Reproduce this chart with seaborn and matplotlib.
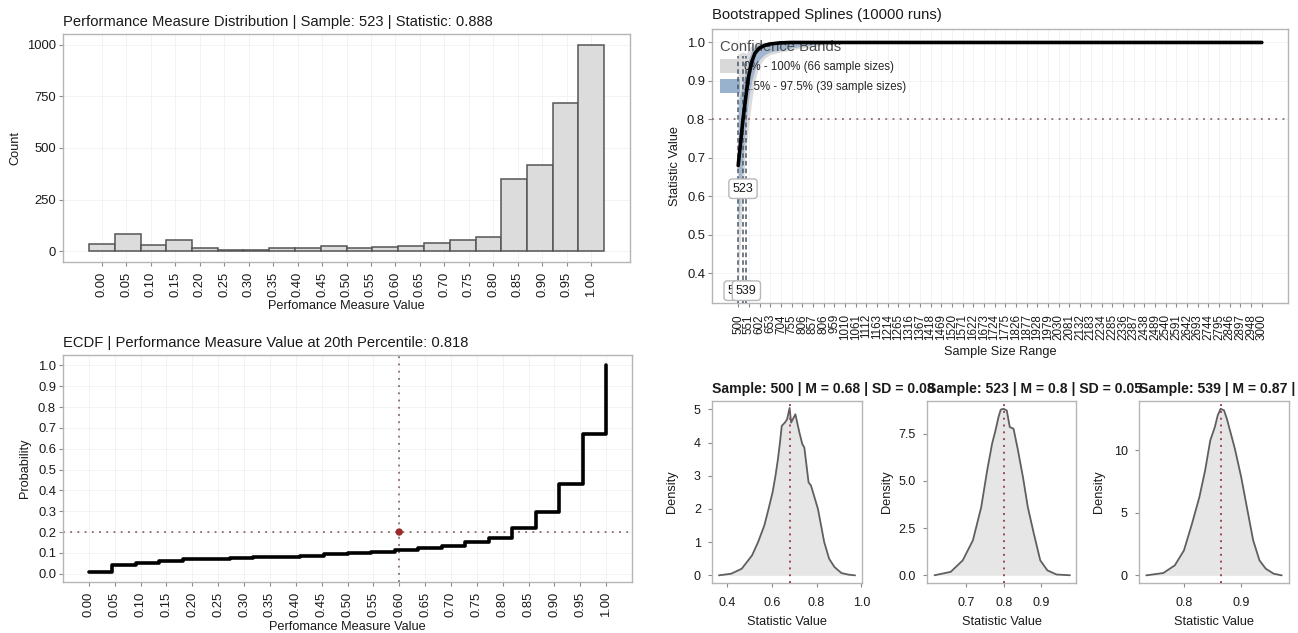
import numpy as np
import matplotlib
matplotlib.use("Agg")
import matplotlib.pyplot as plt
import seaborn as sns
from matplotlib.patches import Patch

# ---------------- data ----------------
# histogram (20 bins over 0..1)
hist_centers = [0.000, 0.053, 0.105, 0.158, 0.211, 0.263, 0.316, 0.368, 0.421, 0.474,
                0.526, 0.579, 0.632, 0.684, 0.737, 0.789, 0.842, 0.895, 0.947, 1.000]
hist_counts = [37, 86, 32, 53, 16, 8, 6, 14, 14, 24, 18, 21, 27, 40, 53, 71, 348, 417, 720, 1000]

value_ticks = [0.00, 0.05, 0.10, 0.15, 0.20, 0.25, 0.30, 0.35, 0.40, 0.45, 0.50,
               0.55, 0.60, 0.65, 0.70, 0.75, 0.80, 0.85, 0.90, 0.95, 1.00]
value_tick_labels = ["0.00", "0.05", "0.10", "0.15", "0.20", "0.25", "0.30", "0.35", "0.40",
                     "0.45", "0.50", "0.55", "0.60", "0.65", "0.70", "0.75", "0.80", "0.85",
                     "0.90", "0.95", "1.00"]
count_ticks = [0, 250, 500, 750, 1000]

# ECDF
ecdf_x = [0.000, 0.045, 0.091, 0.136, 0.182, 0.227, 0.273, 0.318, 0.364, 0.409, 0.455, 0.500,
          0.545, 0.591, 0.636, 0.682, 0.727, 0.773, 0.818, 0.864, 0.909, 0.955, 1.000]
ecdf_y = [0.008, 0.041, 0.052, 0.060, 0.069, 0.072, 0.075, 0.078, 0.081, 0.085, 0.095, 0.101,
          0.106, 0.115, 0.123, 0.134, 0.151, 0.172, 0.217, 0.296, 0.430, 0.670, 1.000]
prob_ticks = [0.0, 0.1, 0.2, 0.3, 0.4, 0.5, 0.6, 0.7, 0.8, 0.9, 1.0]
pct_x = 0.60
pct_y = 0.20

# bootstrapped spline
boot_sizes = [500, 523, 539, 551, 565, 580, 600, 625, 650, 700, 750, 800, 900, 1000, 1500, 2000, 3000]
boot_mean = [0.68, 0.80, 0.87, 0.915, 0.950, 0.972, 0.985, 0.992, 0.996, 0.999, 1.0, 1.0, 1.0, 1.0, 1.0, 1.0, 1.0]
band_q_lo = [0.52, 0.70, 0.80, 0.86, 0.90, 0.93, 0.955, 0.968, 0.975, 0.980, 0.985, 0.990, 0.997, 1.0, 1.0, 1.0, 1.0]
band_q_hi = [0.84, 0.90, 0.93, 0.960, 0.980, 0.990, 0.996, 0.999, 1.0, 1.0, 1.0, 1.0, 1.0, 1.0, 1.0, 1.0, 1.0]
band_min = [0.36, 0.62, 0.73, 0.79, 0.85, 0.90, 0.94, 0.958, 0.968, 0.975, 0.980, 0.985, 0.993, 0.998, 1.0, 1.0, 1.0]
band_max = [0.97, 0.976, 0.971, 0.985, 0.993, 0.997, 1.0, 1.0, 1.0, 1.0, 1.0, 1.0, 1.0, 1.0, 1.0, 1.0, 1.0]
boot_tick_labels = ["500", "551", "602", "653", "704", "755", "806", "857", "806", "959",
                    "1010", "1061", "1112", "1163", "1214", "1265", "1316", "1367", "1418", "1469",
                    "1520", "1571", "1622", "1673", "1724", "1775", "1826", "1877", "1928", "1979",
                    "2030", "2081", "2132", "2183", "2234", "2285", "2336", "2387", "2438", "2489",
                    "2540", "2591", "2642", "2693", "2744", "2795", "2846", "2897", "2948", "3000"]
stat_ticks = [0.4, 0.5, 0.6, 0.7, 0.8, 0.9, 1.0]
target_stat = 0.8
marked_sizes = [500, 523, 539]
marked_label_y = [0.355, 0.62, 0.355]
band_labels = ["0% - 100% (66 sample sizes)", "2.5% - 97.5% (39 sample sizes)"]

# density panels
d500_x = [0.363, 0.418, 0.465, 0.511, 0.538, 0.566, 0.585, 0.603, 0.616, 0.627, 0.636, 0.644,
          0.658, 0.668, 0.679, 0.686, 0.705, 0.723, 0.736, 0.745, 0.764, 0.775, 0.806, 0.834,
          0.856, 0.880, 0.911, 0.944, 0.972]
d500_y = [0.0, 0.05, 0.2, 0.6, 1.0, 1.5, 2.0, 2.5, 3.0, 3.5, 4.0, 4.5,
          4.6, 4.7, 5.04, 4.6, 4.85, 4.3, 3.95, 3.85, 2.8, 2.7, 2.0, 1.0,
          0.5, 0.25, 0.07, 0.02, 0.0]
d523_x = [0.616, 0.659, 0.691, 0.718, 0.740, 0.756, 0.769, 0.778, 0.786, 0.792, 0.799, 0.808,
          0.816, 0.826, 0.837, 0.851, 0.864, 0.880, 0.897, 0.916, 0.940, 0.976]
d523_y = [0.0, 0.18, 0.79, 1.85, 3.6, 5.56, 6.97, 7.67, 8.38, 8.77, 8.82, 8.73,
          7.85, 7.76, 6.7, 5.2, 3.6, 2.2, 0.79, 0.26, 0.04, 0.0]
d539_x = [0.734, 0.764, 0.784, 0.800, 0.814, 0.827, 0.837, 0.846, 0.854, 0.859, 0.864, 0.870,
          0.875, 0.882, 0.889, 0.900, 0.911, 0.921, 0.932, 0.943, 0.957, 0.971]
d539_y = [0.0, 0.19, 0.8, 2.0, 4.13, 6.27, 8.4, 10.8, 11.87, 12.8, 13.33, 13.2,
          12.53, 11.33, 10.13, 7.87, 5.2, 2.8, 1.2, 0.53, 0.13, 0.0]
dens_means = [0.679, 0.800, 0.864]
dens_titles = ["Sample: 500 | M = 0.68 | SD = 0.08",
               "Sample: 523 | M = 0.8 | SD = 0.05",
               "Sample: 539 | M = 0.87 |"]
dens_yticks = [[0, 1, 2, 3, 4, 5], [0.0, 2.5, 5.0, 7.5], [0, 5, 10]]
dens_yticklabels = [["0", "1", "2", "3", "4", "5"], ["0.0", "2.5", "5.0", "7.5"], ["0", "5", "10"]]
dens_xticks = [[0.4, 0.6, 0.8, 1.0], [0.7, 0.8, 0.9], [0.8, 0.9]]
dens_xticklabels = [["0.4", "0.6", "0.8", "1.0"], ["0.7", "0.8", "0.9"], ["0.8", "0.9"]]

# ---------------- style ----------------
sns.set_theme(style="white")
plt.rcParams["font.family"] = ["Liberation Sans", "DejaVu Sans"]
TXT = "#1a1a1a"
SPINE = "#b5b5b5"
GRID = "#f1f1f1"
DOT = "#8a6a6a"
plt.rcParams.update({
    "axes.edgecolor": SPINE,
    "axes.linewidth": 1.0,
    "xtick.color": "#8c8c8c",
    "ytick.color": "#8c8c8c",
    "xtick.labelcolor": TXT,
    "ytick.labelcolor": TXT,
    "xtick.major.size": 3,
    "ytick.major.size": 3,
    "xtick.major.width": 0.8,
    "ytick.major.width": 0.8,
    "xtick.bottom": True,
    "ytick.left": True,
    "axes.labelcolor": TXT,
})

W, H = 1298, 633
fig = plt.figure(figsize=(W / 100, H / 100), dpi=100)


def add_axes(l, r, t, b):
    return fig.add_axes([l / W, 1 - b / H, (r - l) / W, (b - t) / H])


def style_axes(ax, tick_fs=9.0):
    ax.tick_params(axis="both", labelsize=tick_fs, pad=2)
    ax.grid(True, color=GRID, linewidth=0.6)
    ax.set_axisbelow(True)
    for s in ax.spines.values():
        s.set_color(SPINE)
        s.set_visible(True)


# ---- top-left histogram ----
ax1 = add_axes(63, 630, 34, 262)
half = (hist_centers[1] - hist_centers[0]) / 2
edges = [hist_centers[0] - half] + [c + half for c in hist_centers]
sns.histplot(x=hist_centers, weights=hist_counts, bins=edges, ax=ax1,
             color="#dcdcdc", edgecolor="#555555", linewidth=1.1, alpha=1.0)
ax1.set_xlim(-0.079, 1.079)
ax1.set_ylim(-52, 1052)
ax1.set_xticks(value_ticks)
ax1.set_xticklabels(value_tick_labels, rotation=90)
ax1.set_yticks(count_ticks)
style_axes(ax1, tick_fs=9.4)
ax1.tick_params(axis="x", pad=4)
ax1.set_xlabel("Perfomance Measure Value", fontsize=9.2, labelpad=2)
ax1.set_ylabel("Count", fontsize=9.2, labelpad=4)
ax1.set_title("Performance Measure Distribution | Sample: 523 | Statistic: 0.888",
              loc="left", fontsize=10.6, color=TXT, pad=6)

# ---- bottom-left ECDF ----
ax2 = add_axes(63, 632, 355, 582)
ax2.axvline(pct_x, color=DOT, linestyle=(0, (1, 3)), linewidth=1.3, zorder=2)
ax2.axhline(pct_y, color=DOT, linestyle=(0, (1, 3)), linewidth=1.3, zorder=2)
sns.lineplot(x=ecdf_x, y=ecdf_y, drawstyle="steps-post", color="black", linewidth=2.6,
             ax=ax2, zorder=3)
sns.scatterplot(x=[pct_x], y=[pct_y], color="#9b2b2b", s=28, ax=ax2, zorder=4, edgecolor="none")
ax2.set_xlim(-0.05, 1.05)
ax2.set_ylim(-0.04, 1.05)
ax2.set_xticks(value_ticks)
ax2.set_xticklabels(value_tick_labels, rotation=90)
ax2.set_yticks(prob_ticks)
ax2.set_yticklabels([f"{v:.1f}" for v in prob_ticks])
style_axes(ax2, tick_fs=9.4)
ax2.tick_params(axis="x", pad=4)
ax2.set_xlabel("Perfomance Measure Value", fontsize=9.2, labelpad=2.5)
ax2.set_ylabel("Probability", fontsize=9.2, labelpad=5)
ax2.set_title("ECDF | Performance Measure Value at 20th Percentile: 0.818",
              loc="left", fontsize=10.6, color=TXT, pad=6)

# ---- top-right bootstrapped splines ----
ax3 = add_axes(712, 1288, 29, 303)
ax3.fill_between(boot_sizes, band_min, band_max, color="#d9d9d9", alpha=0.9, linewidth=0, zorder=2)
ax3.fill_between(boot_sizes, band_q_lo, band_q_hi, color="#98b1cd", alpha=0.85, linewidth=0, zorder=2)
ax3.axhline(target_stat, color=DOT, linestyle=(0, (1, 3)), linewidth=1.3, zorder=3)
leg = ax3.legend(handles=[Patch(facecolor="#d9d9d9", edgecolor="none"),
                          Patch(facecolor="#98b1cd", edgecolor="none")],
                 labels=band_labels, title="Confidence Bands", loc="upper left",
                 bbox_to_anchor=(0.0, 0.99), frameon=False, fontsize=8.3,
                 title_fontsize=10.6, handlelength=1.75, handleheight=1.55,
                 handletextpad=0.3, labelspacing=0.45, borderaxespad=0.3,
                 alignment="left")
leg.get_title().set_color("#4d4d4d")
leg.set_zorder(2.5)
for xs in marked_sizes:
    ax3.plot([xs, xs], [0.323, 0.965], color="#4a5866", linestyle=(0, (3, 2)),
             linewidth=1.1, zorder=4)
sns.lineplot(x=boot_sizes, y=boot_mean, color="black", linewidth=2.6, ax=ax3, zorder=5)
for xs, ys in zip(marked_sizes, marked_label_y):
    ax3.text(xs, ys, str(xs), ha="center", va="center", fontsize=9.0, color=TXT, zorder=6,
             bbox=dict(boxstyle="round,pad=0.3,rounding_size=0.25", fc="white", ec="#b8b8b8", lw=1.0))
ax3.set_xlim(375, 3125)
ax3.set_ylim(0.323, 1.035)
ax3.set_xticks(np.linspace(500, 3000, len(boot_tick_labels)))
ax3.set_xticklabels(boot_tick_labels, rotation=90)
ax3.set_yticks(stat_ticks)
ax3.set_yticklabels([f"{v:.1f}" for v in stat_ticks])
style_axes(ax3, tick_fs=9.4)
ax3.tick_params(axis="x", labelsize=8.4, pad=5)
ax3.set_xlabel("Sample Size Range", fontsize=9.2, labelpad=4)
ax3.set_ylabel("Statistic Value", fontsize=9.2)
ax3.set_title("Bootstrapped Splines (10000 runs)", loc="left", fontsize=10.6, color=TXT, pad=7)

# ---- bottom-right density panels ----
panel_x = [(712, 862), (927, 1076), (1139, 1289)]
xlims = [(0.332, 1.003), (0.596, 0.992), (0.7214, 0.9836)]
ylims = [(-0.23, 5.25), (-0.41, 9.23), (-0.61, 13.95)]
dens_x = [d500_x, d523_x, d539_x]
dens_y = [d500_y, d523_y, d539_y]
for i in range(3):
    ax = add_axes(panel_x[i][0], panel_x[i][1], 401, 583)
    ax.fill_between(dens_x[i], 0, dens_y[i], color="#e6e6e6", linewidth=0, zorder=2)
    sns.lineplot(x=dens_x[i], y=dens_y[i], color="#5f5f5f", linewidth=1.3, ax=ax, zorder=3)
    ax.axvline(dens_means[i], color="#9b4a50", linestyle=(0, (1, 2.5)), linewidth=1.4, zorder=4)
    ax.set_xlim(*xlims[i])
    ax.set_ylim(*ylims[i])
    ax.set_xticks(dens_xticks[i])
    ax.set_xticklabels(dens_xticklabels[i])
    ax.set_yticks(dens_yticks[i])
    ax.set_yticklabels(dens_yticklabels[i])
    style_axes(ax, tick_fs=9.0)
    ax.tick_params(axis="x", pad=7)
    ax.tick_params(axis="y", pad=5)
    ax.grid(False)
    ax.set_xlabel("Statistic Value", fontsize=9.2, labelpad=5)
    ax.set_ylabel("Density", fontsize=9.2)
    width = panel_x[i][1] - panel_x[i][0]
    ax.yaxis.set_label_coords(-34 / width, 0.5)
    ax.set_title(dens_titles[i], loc="left", fontsize=10.1, fontweight="bold", color=TXT, pad=6)

fig.savefig("out.png", dpi=100, facecolor="white")
